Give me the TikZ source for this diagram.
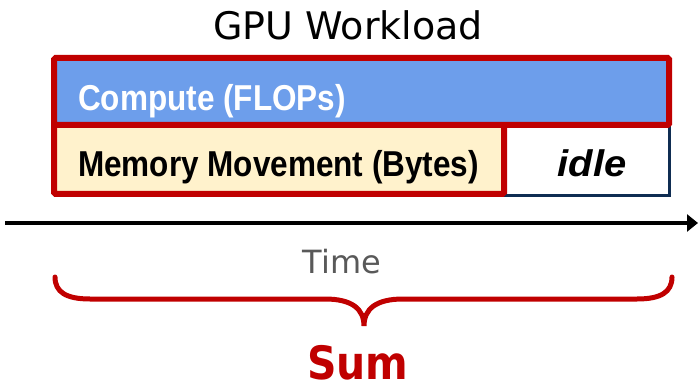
\documentclass[tikz,border=0pt]{standalone}
\usepackage{fontspec}
\usepackage{graphicx}
\setmainfont{Liberation Sans}
\newfontfamily\dejavu{DejaVu Sans}
\usetikzlibrary{arrows.meta}
\definecolor{redb}{HTML}{C00000}
\definecolor{bluef}{HTML}{6D9EEB}
\definecolor{creamf}{HTML}{FFF2CC}
\definecolor{navyb}{HTML}{0F2D52}
\definecolor{grayt}{HTML}{595959}
\tikzset{
  redbox/.style={draw=redb, line width=6pt, rounded corners=1.5pt},
  lbl/.style={inner sep=0pt, anchor=base west},
}
\begin{document}
\begin{tikzpicture}[x=1pt,y=1pt]
\useasboundingbox (0,0) rectangle (698,391);
% title
\node[inner sep=0pt, font=\dejavu\fontsize{38}{40}\selectfont] (title) at (348,366) {GPU Workload};
% idle box
\draw[navyb, line width=3pt, fill=white] (504,266) rectangle (669,195.5);
\node[inner sep=0pt, anchor=base, font=\bfseries\itshape\fontsize{37}{40}\selectfont] (idle) at (592,214) {\scalebox{1.08}[1]{idle}};
% memory box
\draw[redbox, fill=creamf] (54,266) rectangle (504,197);
\node[lbl, font=\bfseries\fontsize{36}{40}\selectfont] (mem) at (78,214) {\scalebox{0.875}[1]{Memory Movement (Bytes)}};
% compute box
\draw[redbox, fill=bluef] (54,333) rectangle (669,266);
\node[lbl, text=white, font=\bfseries\fontsize{36}{40}\selectfont] (comp) at (78,280) {\scalebox{0.875}[1]{Compute (FLOPs)}};
% time axis
\coordinate (t0) at (5,168);
\coordinate (t1) at (698,168);
\draw[line width=4pt, -{Triangle[length=11pt,width=17pt]}] (t0) -- (t1);
\node[inner sep=0pt, text=grayt, font=\dejavu\fontsize{32}{36}\selectfont] (time) at (342,129) {Time};
% brace
\coordinate (bl) at (55,114);
\coordinate (br) at (672,114);
\coordinate (tip) at (364,65);
\draw[redb, line width=5pt, line cap=round]
  (bl) .. controls (55,99) and (66,92) .. (90,92)
  -- (325,92) .. controls (352,92) and (364,82) .. (tip)
  .. controls (364,82) and (376,92) .. (403,92)
  -- (637,92) .. controls (661,92) and (672,99) .. (br);
\node[inner sep=0pt, anchor=base, text=redb, font=\dejavu\bfseries\fontsize{46}{50}\selectfont] (sum) at (358,12) {\scalebox{0.89}[1]{Sum}};
\end{tikzpicture}
\end{document}
